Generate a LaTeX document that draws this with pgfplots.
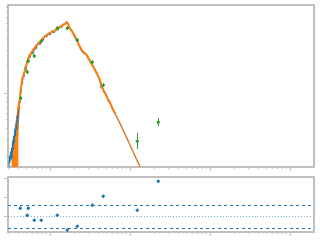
\documentclass[border=0pt]{standalone}
\usepackage{pgfplots}
\pgfplotsset{compat=1.18}
\definecolor{tblue}{HTML}{1F77B4}
\definecolor{torange}{HTML}{FF7F0E}
\definecolor{tgreen}{HTML}{2CA02C}
\definecolor{spine}{RGB}{192,192,192}
\pgfplotsset{
  common/.style={
    scale only axis, width=306pt, anchor=south west,
    xmin=8, xmax=314,
    y dir=reverse,
    axis line style={draw=spine, line width=1.3pt},
    tick style={draw=spine, line width=0.8pt},
    major tick length=3.5pt, minor tick length=2pt,
    tick align=outside, xtick pos=bottom, ytick pos=left,
    xticklabels={}, yticklabels={},
    xtick={50,130,210,290},
    minor xtick={8.2,18.2,25.9,32.2,37.6,42.2,46.3,74.1,88.2,98.2,105.9,112.2,117.6,122.2,126.3,154.1,168.2,178.2,185.9,192.2,197.6,202.2,206.3,234.1,248.2,258.2,265.9,272.2,277.6,282.2,286.3},
  }
}
\begin{document}
\begin{tikzpicture}[x=1pt,y=1pt]
\path[use as bounding box] (0,0) rectangle (320,240);
\begin{axis}[common, at={(8pt,73pt)}, height=162pt, ymin=5, ymax=167,
  ytick={93},
  minor ytick={7.1,11.7,17.0,23.0,30.1,38.8,50.1,65.9,97.1,101.7,107.0,113.0,119.9,128.8,140.1,155.9}]
% orange band at left
\addplot[fill=torange, draw=none] coordinates {
(11.5,167)(12,152)(13.5,139)(15,127)(16.5,115)(18,105)(19.5,99)(20,106)(19,122)(18.4,138)(18.3,167)} -- cycle;
% blue noisy data
\addplot[tblue, line width=1pt, line join=round] coordinates {
(9,167)(9.4,156)(9.9,163)(10.4,152)(11,160)(11.6,148)(12.1,158)(12.6,141)(13.1,150)(13.6,136)(14.2,143)(14.8,129)(15.4,136)(16,124)(16.6,130)(17.2,116)(17.8,122)(18,118)(19,102)(20,103)(20.5,90)(21,93)(22,78)(22.5,84)(23,76.5)(24,77)(25,67.5)(26,71)(27,61.5)(28,63)(29,55)(30,58)(31.5,51.5)(33,54)(34.5,49)(36,49)(38,42.8)(40,44.7)(41.5,40)(43,40.5)(45,35.4)(46.7,37)(48.5,33)(50,35)(52,30.8)(54,32.8)(56,29)(58,30)(60,26)(61.5,27.5)(63,24)(65,24.8)(66.7,21.7)(68,23)(70,29.5)(72,30.5)(74,36)(76,39.5)(78,42.5)(80,48)(82,51.5)(84,53.5)(86,54)(88,58.5)(90,60)(92,65.5)(94,67)(96,72.5)(98,76)(100,81)(101,88)(102,86.5)(104,92.5)(106,94)(108,101)(110,102)(112,108.5)(115,113.5)(120,123.5)(125,134)(130,145)(135,156)(140,166.7)
};
% orange model
\addplot[torange, line width=1.9pt, line join=round] coordinates {
(18,110)(19,104)(20,97)(21,88)(22,80)(24,73)(26,66)(28,59)(30,55)(33,50)(36,46)(40,41.7)(43,38)(46.7,35)(50,33)(53.3,31)(56,30)(60,27)(63,25)(66.7,22.7)(68,24)(70,28.3)(73,33)(76.7,39.3)(79,45)(81.7,50)(84,52.5)(86.7,55)(90,61)(93.3,66.7)(97,73.5)(100,80)(101.7,86.7)(104,91)(106.7,96.7)(110,103)(115,113.3)
};
\addplot[torange, line width=1pt] coordinates {
(115,113.3)(120,123.5)(125,134)(130,145)(135,156)(140,166.7)
};
% green points
\addplot[draw=tgreen, color=tgreen, only marks, mark=*, mark size=1.6pt,
  mark options={draw=tgreen, fill=tgreen},
  error bars/.cd, y dir=both, y explicit,
  error bar style={draw=tgreen, color=tgreen, line width=1.4pt}, error mark=none]
  coordinates {
(20.7,98.3) +- (0,2)
(27.3,72) +- (0,2)
(28.3,61) +- (0,2)
(34.3,56) +- (0,2)
(41.3,41.3) +- (0,2)
(57.3,28.3) +- (0,2)
(67.3,28.3) +- (0,2)
(77.3,40.3) +- (0,2)
(92.3,62.3) +- (0,2)
(103.3,85.3) +- (0,2)
(137.3,141.3) +- (0,8)
(158.3,122.3) +- (0,4)
};
\end{axis}
\begin{axis}[common, at={(8pt,8pt)}, height=55pt, ymin=177, ymax=232,
  ytick={178,197,216}]
\addplot[tblue, dashed, line width=0.9pt] coordinates {(8,205.3)(314,205.3)};
\addplot[tblue, dashed, line width=0.9pt] coordinates {(8,228.3)(314,228.3)};
\addplot[tblue!60, dotted, line width=0.9pt] coordinates {(8,216.3)(314,216.3)};
\addplot[tblue, only marks, mark=*, mark size=1.6pt] coordinates {
(20.3,208.3)(27.3,215.3)(28.3,208.3)(34.3,220.3)(41.3,220.3)(57.3,215.3)(67.3,230)(77.3,226.3)(92.3,205.3)(103.3,196.3)(137.3,210.3)(158.3,181.3)
};
\end{axis}
\end{tikzpicture}
\end{document}
